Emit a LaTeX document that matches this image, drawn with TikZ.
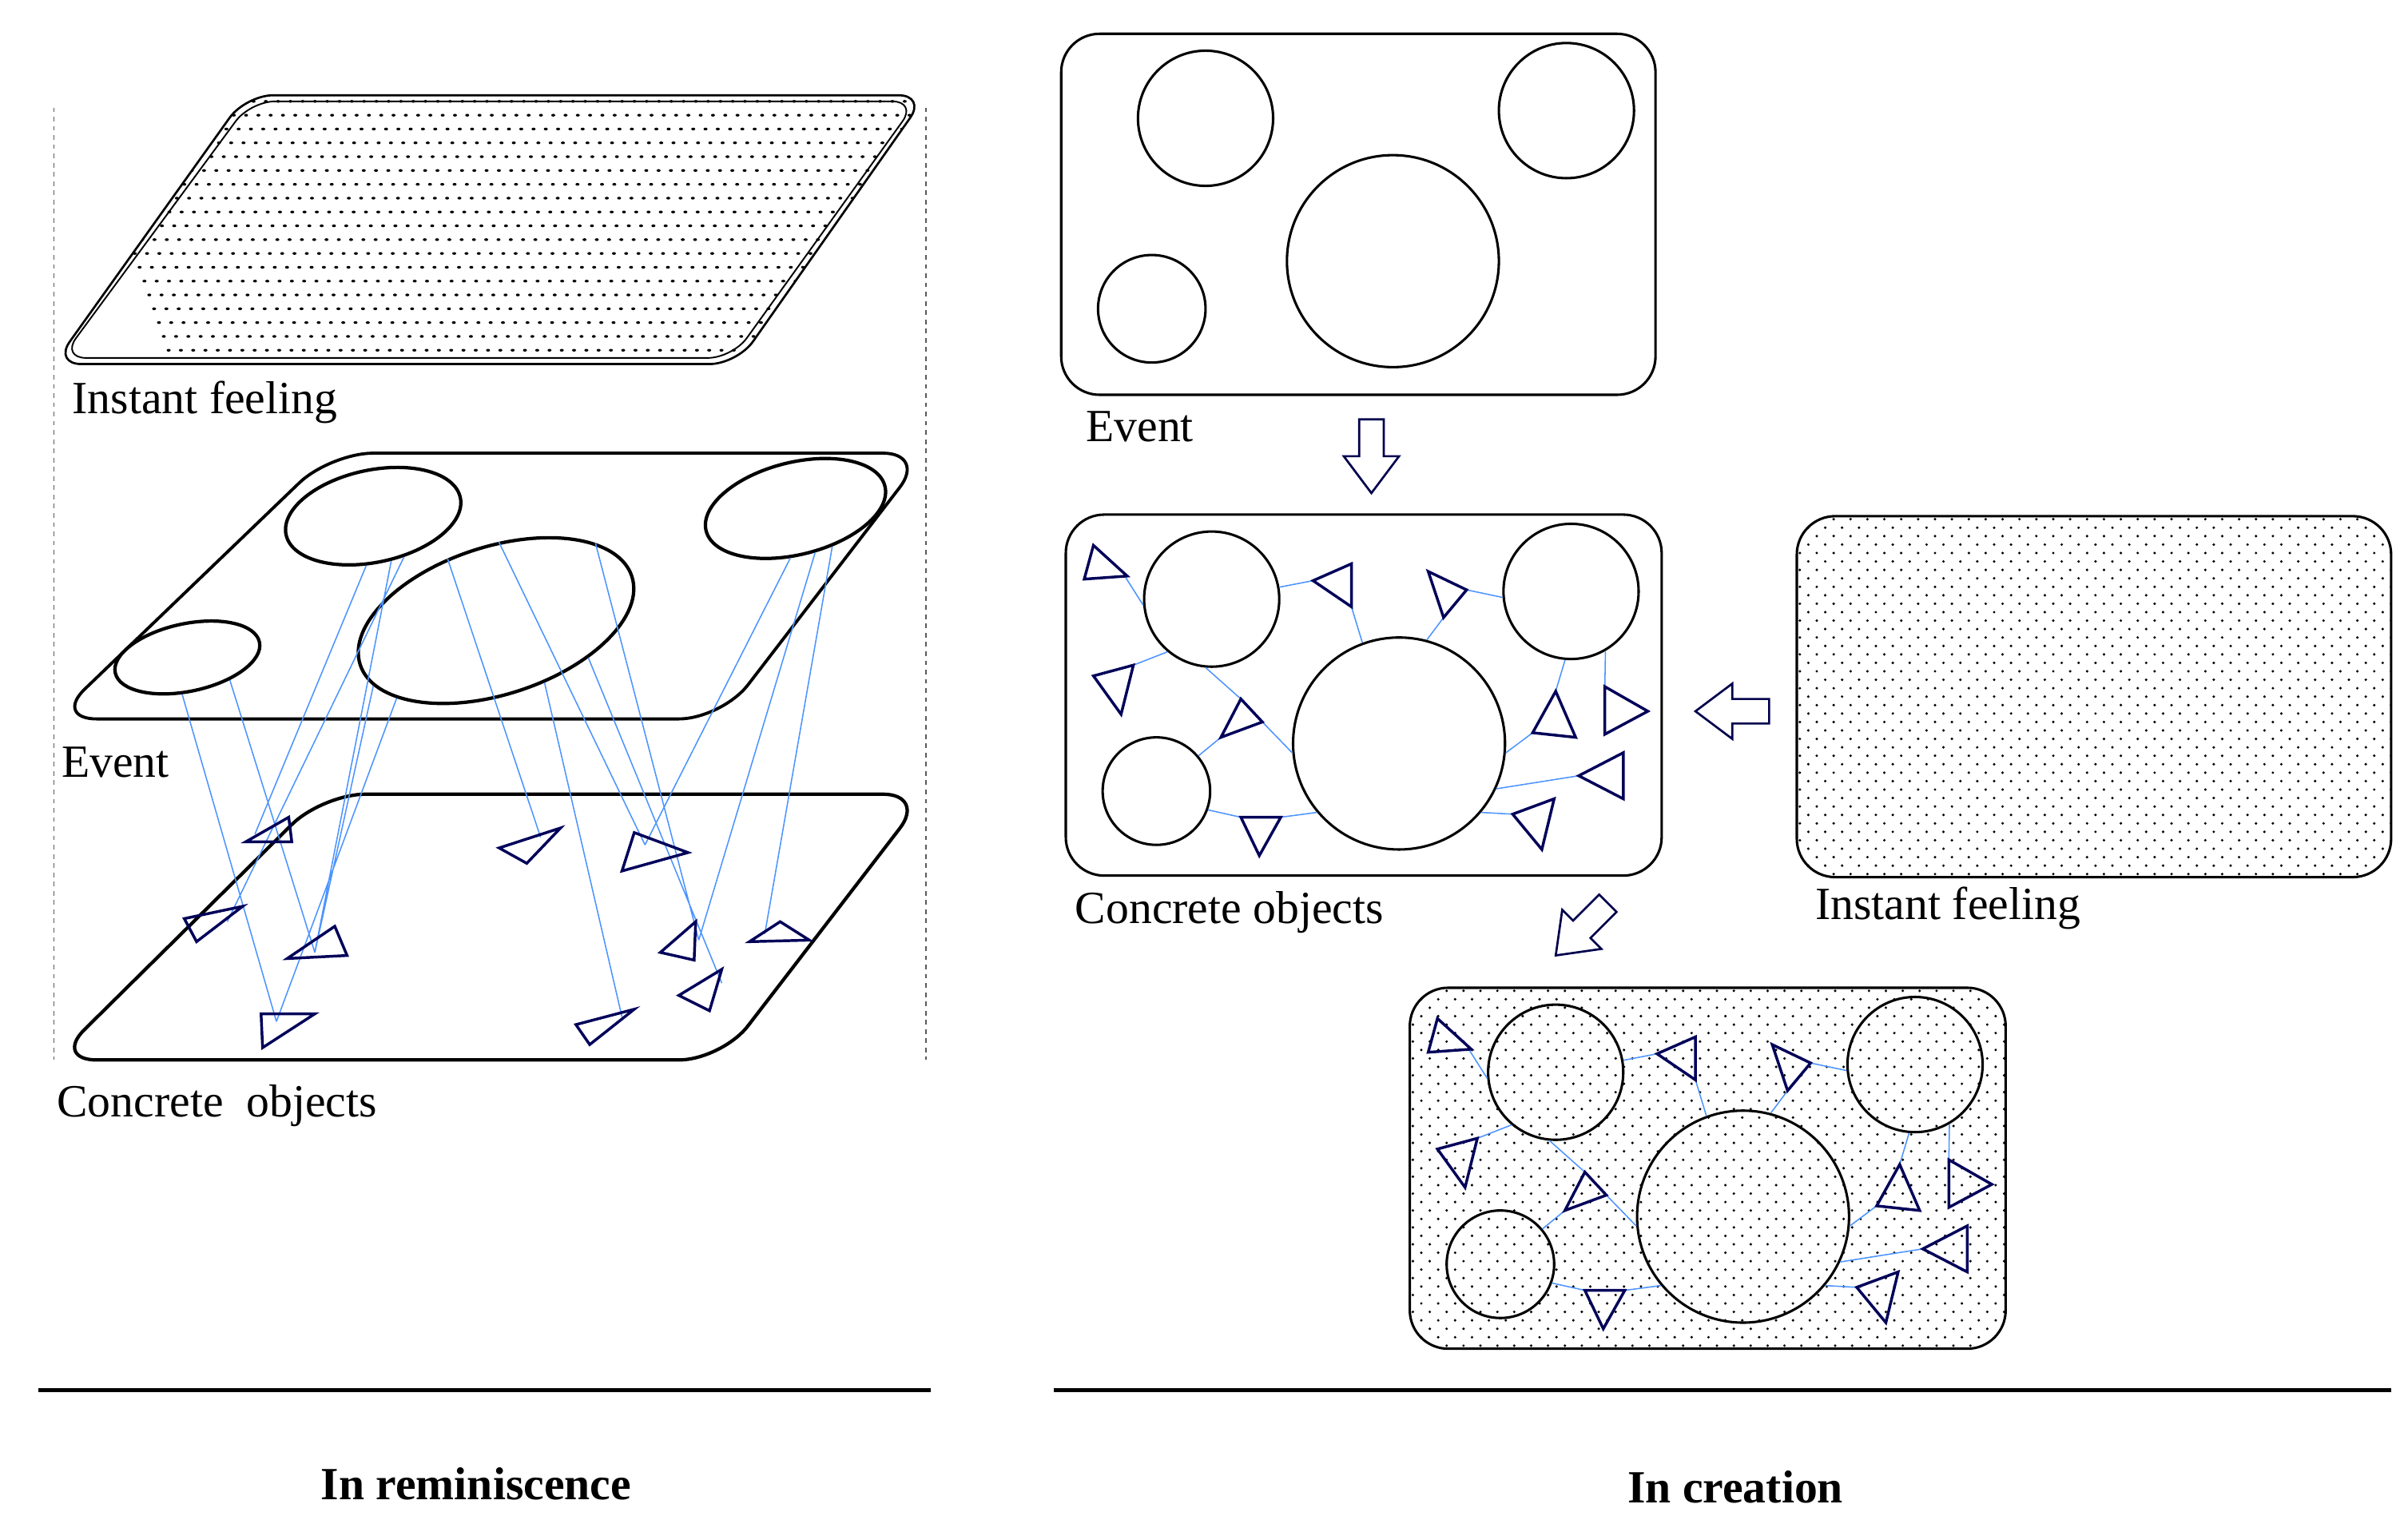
\documentclass[tikz,border=0pt]{standalone}
\usepackage{fontspec}
\setmainfont{Liberation Serif}
\usetikzlibrary{shapes.geometric}
\begin{document}
\begin{tikzpicture}[x=1pt,y=-1pt,
  lbl/.style={anchor=west,font=\fontsize{30}{32}\selectfont,inner sep=0},
  ttl/.style={font=\fontsize{30}{32}\selectfont\bfseries,inner sep=0},
  circ/.style={circle,draw,line width=1.6pt,inner sep=0},
  ell/.style={ellipse,draw,line width=2.2pt},
  tri/.style={draw=blue!35!black,line width=1.8pt,line join=miter},
  lk/.style={draw=blue!60!cyan!70!white,line width=0.8pt},
  box/.style={draw,line width=1.6pt,rounded corners=25pt},
  harrow/.style={draw=blue!30!black,line width=1.4pt,fill=white}]
\useasboundingbox (0,0) rectangle (1568,992);
\def\tri#1#2#3{\draw[tri] (#1)--(#2)--(#3)--cycle;}
\def\dotfill#1#2#3#4{\foreach \i in {0,...,#3}{\foreach \j in {0,...,#4}{\fill (#1+11*\i,#2+11*\j) circle (0.9);\fill (#1+11*\i+5.5,#2+11*\j+5.5) circle (0.9);}}}
\def\harr{(-8,-24)--(8,-24)--(8,0)--(18,0)--(0,24)--(-18,0)--(-8,0)--cycle}
% ---------- left ----------
\draw[dashed,line width=0.8pt,gray!70!black] (35,70)--(35,690) (603,70)--(603,690);
\begin{scope}
\clip[rounded corners=18pt] (35,237)--(160,62)--(603,62)--(480,237)--cycle;
\foreach \yy in {66,75,...,236}{\foreach \xx in {30,38,...,610}{\fill (\xx+\yy*0.35,\yy) ellipse (1.3 and 0.9);}}
\end{scope}
\draw[line width=1.4pt,rounded corners=18pt] (35,237)--(160,62)--(603,62)--(480,237)--cycle;
\draw[line width=1.0pt,rounded corners=16pt] (40,233)--(163,66)--(597,66)--(477,233)--cycle;
\node[lbl] (lif) at (47,262) {Instant feeling};
\draw[line width=2pt,rounded corners=28pt] (35,468)--(215,295)--(603,295)--(470,468)--cycle;
\node[ell,minimum width=96pt,minimum height=44pt,rotate=12] (e1) at (122,428) {};
\node[ell,minimum width=116pt,minimum height=60pt,rotate=12] (e2) at (243,336) {};
\node[ell,minimum width=186pt,minimum height=96pt,rotate=18] (e3) at (323,404) {};
\node[ell,minimum width=120pt,minimum height=60pt,rotate=14] (e4) at (518,331) {};
\node[lbl] (lev) at (40,496) {Event};
\draw[line width=2.2pt,rounded corners=28pt] (35,690)--(210,517)--(603,517)--(470,690)--cycle;
\node[lbl] (lco) at (37,720) {Concrete\ \ objects};
\coordinate (p1) at (166,543); \coordinate (p2) at (148,600); \coordinate (p3) at (205,620);
\coordinate (p4) at (180,665); \coordinate (p5) at (352,545); \coordinate (p6) at (420,550);
\coordinate (p7) at (455,612); \coordinate (p8) at (498,608); \coordinate (p9) at (470,640); \coordinate (p10) at (405,662);
\draw[lk] (e1.-110)--(p4) (e1.-40)--(p3) (e2.-110)--(p1) (e2.-80)--(p3) (e2.-65)--(p2)
 (e3.200)--(p4) (e3.190)--(p3) (e3.110)--(p5) (e3.70)--(p6) (e3.-70)--(p10) (e3.-40)--(p9)
 (e3.20)--(p7) (e4.-110)--(p6) (e4.-80)--(p7) (e4.-60)--(p8);
\tri{188,532}{190,548}{160,548} \tri{158,590}{120,598}{128,613} \tri{187,624}{218,603}{226,622}
\tri{170,660}{205,660}{171,682} \tri{365,539}{325,552}{343,562} \tri{413,542}{448,555}{405,567}
\tri{453,600}{430,620}{452,625} \tri{488,613}{508,600}{527,612} \tri{470,631}{442,648}{462,658}
\tri{413,657}{375,667}{384,680}
\draw[line width=2.2pt] (25,905)--(606,905);
\node[ttl] (tr) at (310,966) {In reminiscence};
% ---------- right ----------
\draw[box] (691,22) rectangle (1078,257);
\node[circ,minimum size=88pt] (a1) at (785,77) {};
\node[circ,minimum size=88pt] (a2) at (1020,72) {};
\node[circ,minimum size=138pt] (a3) at (907,170) {};
\node[circ,minimum size=70pt] (a4) at (750,201) {};
\node[lbl] (lev2) at (707,278) {Event};
\draw[harrow,shift={(893,297)}] \harr;
\begin{scope}
\clip[rounded corners=25pt] (1170,336) rectangle (1557,571);
\dotfill{1172}{338}{36}{22}
\end{scope}
\draw[box] (1170,336) rectangle (1557,571);
\node[lbl] (lif2) at (1182,591) {Instant feeling};
\draw[harrow,shift={(1128,463)},rotate=-90] \harr;
\draw[harrow,shift={(1030,605)},rotate=-45] \harr;
\node[lbl] (lco2) at (700,594) {Concrete objects};
\foreach \dx/\dy/\dd/\nm in {0/0/0/m,224/308/1/b}{
 \begin{scope}[shift={(\dx,\dy)}]
 \ifnum\dd=1
  \begin{scope}\clip[rounded corners=25pt] (694,335) rectangle (1082,570);
  \dotfill{696}{337}{36}{22}\end{scope}
 \fi
 \draw[box] (694,335) rectangle (1082,570);
 \node[circ,minimum size=88pt] (\nm1) at (789,390) {};
 \node[circ,minimum size=88pt] (\nm2) at (1023,385) {};
 \node[circ,minimum size=138pt] (\nm3) at (911,484) {};
 \node[circ,minimum size=70pt] (\nm4) at (753,515) {};
 \draw[lk] (\nm1.185)--(733,376) (\nm1.10)--(855,378) (880,395)--(\nm3.110)
  (\nm2.185)--(955,384) (940,402)--(\nm3.75) (\nm1.230)--(738,433)
  (\nm1.-95)--(808,455) (822,470)--(\nm3.185) (795,480)--(\nm4.40)
  (\nm4.-20)--(808,532) (834,532)--(\nm3.220) (\nm2.-95)--(1013,450)
  (998,477)--(\nm3.-5) (\nm2.-60)--(1045,447) (\nm3.-25)--(1028,505) (\nm3.-40)--(985,530);
 \tri{712,355}{706,377}{734,375} \tri{880,367}{880,395}{855,378} \tri{930,372}{955,384}{940,402}
 \tri{712,440}{738,433}{730,465} \tri{808,455}{795,480}{822,470} \tri{808,532}{834,532}{820,557}
 \tri{1013,450}{998,477}{1026,480} \tri{1045,447}{1045,478}{1073,463} \tri{1028,505}{1057,490}{1057,520}
 \tri{985,530}{1012,520}{1004,553}
 \end{scope}}
\draw[line width=2.2pt] (686,905)--(1557,905);
\node[ttl] (tc) at (1130,968) {In creation};
\end{tikzpicture}
\end{document}
